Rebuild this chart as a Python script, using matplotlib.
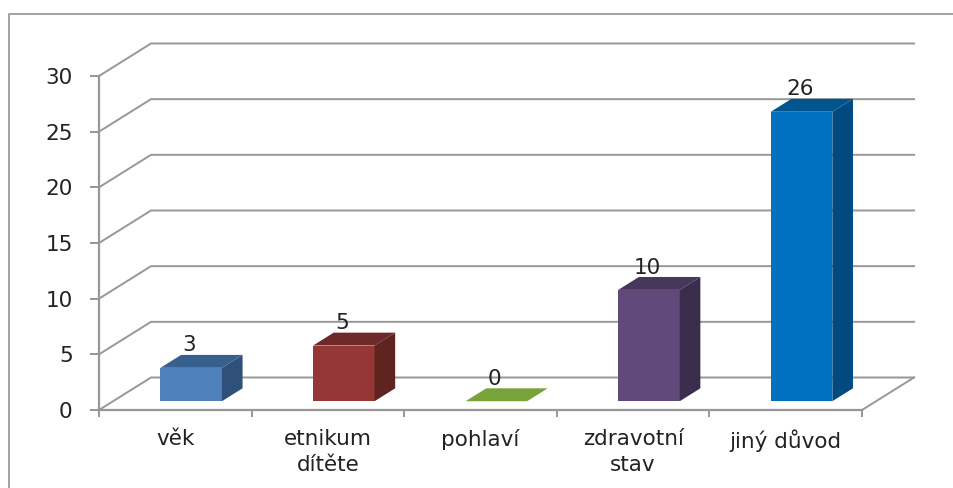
"""Czech survey chart drawn as an oblique 3D column chart."""

import matplotlib

matplotlib.use("Agg")
import matplotlib.pyplot as plt
from matplotlib.lines import Line2D

categories = ["věk", "etnikum\ndítěte", "pohlaví", "zdravotní\nstav", "jiný důvod"]
values = [3, 5, 0, 10, 26]
y_ticks = [0, 5, 10, 15, 20, 25, 30]

front_colors = ["#4f81bd", "#953735", "#77a33a", "#604a7b", "#0070c0"]
top_colors = ["#38608f", "#6e2a28", "#5f8a2e", "#47375b", "#00558f"]
side_colors = ["#2f5078", "#5f2320", "#4f7326", "#3b2d4d", "#004a80"]

GRAY = "#979797"
TEXT = "#222222"
W, H = 954, 488

# wall depth in data units: one category is 152.6 px, one value unit 11.13 px
DEPTH_X = 52 / 152.6
DEPTH_Y = 32.5 / 11.13
BAR_WIDTH = 0.403
BAR_SHIFT = 0.012
BAR_NEAR = 0.27
BAR_FAR = 0.667


def project(x, y, depth):
    return x + depth * DEPTH_X, y + depth * DEPTH_Y


fig = plt.figure(figsize=(W / 100, H / 100), dpi=100, facecolor="white")
ax = fig.add_axes([99 / W, (H - 410) / H, 763 / W, 334 / H])
ax.set_xlim(0, len(categories))
ax.set_ylim(0, y_ticks[-1])
ax.patch.set_visible(False)

for name in ("top", "right"):
    ax.spines[name].set_visible(False)
for name in ("left", "bottom"):
    ax.spines[name].set_color(GRAY)
    ax.spines[name].set_linewidth(1.6)

ax.set_yticks(y_ticks)
ax.set_xticks(range(len(categories) + 1))
ax.set_xticklabels([])
ax.set_xticks([i + 0.5 for i in range(len(categories))], labels=categories, minor=True)
ax.tick_params(axis="y", length=6.5, width=1.4, color=GRAY, labelsize=15.5, labelcolor=TEXT, pad=12.5)
ax.tick_params(axis="x", which="major", length=5, width=1.4, color=GRAY)
ax.tick_params(axis="x", which="minor", length=0, pad=14, labelsize=15.5, labelcolor=TEXT)
for label in ax.get_xticklabels(minor=True):
    label.set_linespacing(1.32)

# back wall and floor
x_end = len(categories)
for v in y_ticks:
    bx, by = project(0, v, 1)
    ex, _ = project(x_end, v, 1)
    ax.plot([0, bx, ex], [v, by, by], color=GRAY, lw=1.4, clip_on=False, zorder=1, solid_joinstyle="miter")
fx, fy = project(x_end, 0, 1)
ax.plot([x_end, fx], [0, fy], color=GRAY, lw=1.4, clip_on=False, zorder=1)

for i, v in enumerate(values):
    left = i + 0.5 - BAR_WIDTH / 2 + BAR_SHIFT
    right = left + BAR_WIDTH
    n_left, n_low = project(left, 0, BAR_NEAR)
    n_right, n_top = project(right, v, BAR_NEAR)
    f_left, f_low = project(left, 0, BAR_FAR)
    f_right, f_top = project(right, v, BAR_FAR)

    ax.bar(n_left, v, width=BAR_WIDTH, bottom=n_low, align="edge", color=front_colors[i], zorder=3, clip_on=False)
    ax.fill(
        [n_right, f_right, f_right, n_right],
        [n_low, f_low, f_top, n_top],
        color=side_colors[i],
        lw=0,
        zorder=3,
        clip_on=False,
    )
    ax.fill(
        [n_left, n_right, f_right, f_left],
        [n_top, n_top, f_top, f_top],
        color=front_colors[i] if v == 0 else top_colors[i],
        lw=0,
        zorder=3,
        clip_on=False,
    )
    ax.annotate(
        str(v),
        xy=((n_left + n_right) / 2 - BAR_SHIFT, f_top),
        xytext=(0, 2.5),
        textcoords="offset points",
        ha="center",
        va="baseline",
        fontsize=15.5,
        color=TEXT,
        zorder=4,
        annotation_clip=False,
    )

# outer chart border, only the left and top edges are in the picture
fig.add_artist(Line2D([9 / W, 9 / W, 1], [0, 1 - 14 / H, 1 - 14 / H], color="#9a9a9a", lw=1.3))

fig.savefig("out.png", dpi=100)
plt.close(fig)
